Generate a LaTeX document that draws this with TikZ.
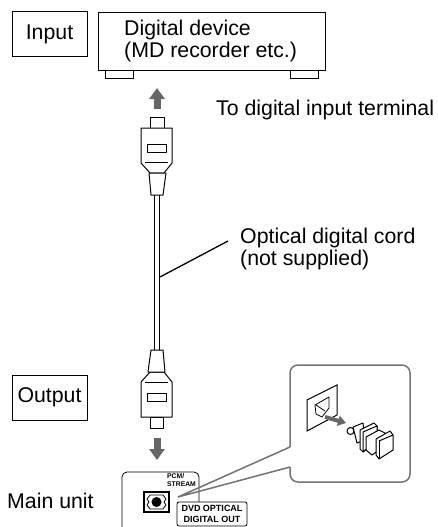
\documentclass[tikz,border=0pt]{standalone}
\usepackage{fontspec}
\setmainfont{Liberation Sans}
\usetikzlibrary{arrows.meta,calc,positioning}
\tikzset{
	labelbox/.style={draw, line width=0.9pt, minimum width=75pt, minimum height=45pt, inner sep=0pt, font=\fontsize{21.3}{22}\selectfont},
	plain/.style={inner sep=0pt, align=left, font=\fontsize{21.3}{22}\selectfont},
	small/.style={inner sep=0pt, align=left, font=\fontsize{6.8}{8}\selectfont\bfseries},
	foot/.style={draw, line width=0.9pt, minimum width=28pt, minimum height=8pt, inner sep=0pt, anchor=north},
	outline/.style={draw, line width=1pt, line join=round, fill=white},
	callout/.style={draw=black!55, line width=1.5pt, line join=round},
	flow/.style={draw=black!60, line width=7pt, -{Triangle[length=11pt,width=15pt]}}
}
\begin{document}
\begin{tikzpicture}[x=1pt, y=-1pt]
	\useasboundingbox (0,0) rectangle (438,527);

	% --- Digital device ---
	\node[labelbox] (input) at (49.5,34) {Input};
	\node[draw, line width=0.9pt, minimum width=227pt, minimum height=58pt, inner sep=0pt] (device) at (211.5,41) {};
	\node[foot] (footL) at (119,70) {};
	\node[foot] (footR) at (304,70) {};
	\node[plain, anchor=west] (devicetext) at (124,41) {Digital device\\(MD recorder etc.)};
	\node[plain, anchor=base west] (terminal) at (216,115) {To digital input terminal};

	% Arrows
	\coordinate (upA) at (157,109);
	\coordinate (upB) at (157,88);
	\coordinate (downA) at (157,438);
	\coordinate (downB) at (157,460);
	\draw[flow] (upA) -- (upB);
	\draw[flow] (downA) -- (downB);

	% --- Cord and plugs ---
	\coordinate (cordLa) at (154,195);
	\coordinate (cordLb) at (154,351);
	\coordinate (cordRa) at (159,195);
	\coordinate (cordRb) at (159,351);
	\draw[line width=1pt] (cordLa) -- (cordLb);
	\draw[line width=1pt] (cordRa) -- (cordRb);

	\draw[outline] (150,117) rectangle (164,128);
	\draw[outline] (141,128) -- (172,128) -- (172,163) -- (164,173) -- (150,173) -- (141,163) -- cycle;
	\draw[line width=0.8pt] (145,162) -- (168,162);
	\draw[outline] (147,144) rectangle (166,152);
	\draw[outline] (149,173) -- (166,173) -- (163,195) -- (151,195) -- cycle;

	\draw[outline] (150,417) rectangle (163,428);
	\draw[outline] (141,417) -- (172,417) -- (172,382) -- (164,372) -- (150,372) -- (141,382) -- cycle;
	\draw[line width=0.8pt] (145,382) -- (168,382);
	\draw[outline] (147,393) rectangle (166,401);
	\draw[outline] (148,372) -- (165,372) -- (163,350) -- (151,350) -- cycle;

	% --- Leader ---
	\coordinate (leadA) at (160,277);
	\coordinate (leadB) at (228,241);
	\draw[line width=1.3pt] (leadA) -- (leadB);
	\node[plain, anchor=west] (cordtext) at (240,249) {Optical digital cord\\(not supplied)};

	% --- Main unit ---
	\node[labelbox] (output) at (49.5,397.5) {Output};
	\node[plain, anchor=base west] (mainunit) at (7,508) {Main unit};
	\draw[line width=0.8pt, rounded corners=5pt] (122,527) -- (122,472) -- (199,472) -- (199,503);
	\node[small, anchor=north west] (pcm) at (167,473.5) {PCM/\\STREAM};
	\draw[line width=1.6pt, fill=white] (144,492) rectangle (169,512);
	\draw[line width=0.8pt] (150,495) -- (163,495) -- (166,499) -- (164,502) -- (166,505) -- (163,509) -- (150,509) -- (147,505) -- (149,502) -- (147,499) -- cycle;
	\fill (156.5,502) circle (5pt);
	\node[draw, line width=0.8pt, rounded corners=2pt, fill=white, minimum width=70pt, minimum height=24pt, inner sep=0pt, align=center, font=\fontsize{9}{11.5}\selectfont\bfseries] (dvd) at (212,514) {DVD OPTICAL\\DIGITAL OUT};

	% --- Callout ---
	\coordinate (tip) at (178,497);
	\coordinate (notchA) at (290,447);
	\coordinate (notchB) at (290,467);
	\draw[callout, rounded corners=8pt] (notchB) -- (290,482) -- (410,482) -- (410,365) -- (290,365) -- (notchA);
	\draw[callout] (notchA) -- (tip) -- (notchB);

	% Socket
	\draw[line width=1pt] (307,400) -- (337,385) -- (337,415) -- (307,431) -- cycle;
	\draw[line width=0.8pt, line join=round] (315,405) -- (329,397) -- (329,408) -- (322,417) -- (316,414) -- cycle;
	\draw[line width=0.8pt] (316,405) -- (325,411);
	\draw[flow, line width=4pt, -{Triangle[length=8pt,width=10pt]}] (325,417) -- (346,423);

	% Plug
	\draw[outline] (350.5,431) circle (3.5pt);
	\draw[outline] (353,427) -- (363,423) -- (365,440) -- (357,443) -- cycle;
	\draw[outline] (360,430) -- (374,423) -- (377,426) -- (377,440) -- (363,452) -- (360,449) -- cycle;
	\draw[outline] (363,432) -- (377,426) -- (377,440) -- (363,452) -- cycle;
	\draw[outline] (366,437) -- (379,430) -- (385,433) -- (385,446) -- (372,455) -- (366,450) -- cycle;
	\draw[outline] (376,439) -- (390,431) -- (393,435) -- (393,450) -- (379,459) -- (376,455) -- cycle;
	\draw[line width=1pt] (379,441) -- (393,435);
	\draw[line width=1pt] (379,441) -- (379,459);
\end{tikzpicture}
\end{document}
